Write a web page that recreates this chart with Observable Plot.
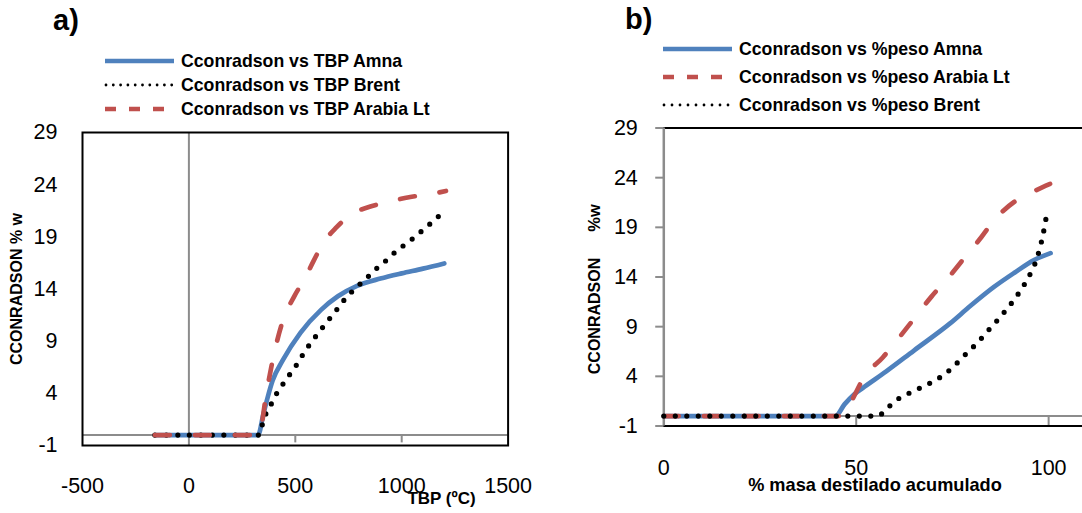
<!DOCTYPE html>
<html><head><meta charset="utf-8">
<script src="https://cdn.jsdelivr.net/npm/d3@7"></script>
<script src="https://cdn.jsdelivr.net/npm/@observablehq/plot@0.6"></script>
<style>
body{margin:0;background:#fff;}
#wrap{position:relative;width:1082px;height:513px;overflow:hidden;background:#fff;}
#wrap svg{position:absolute;top:0;}
</style></head><body><div id="wrap"></div>
<script>
// ---------- data ----------
const yTicks = [-1, 4, 9, 14, 19, 24, 29];
const xTicksA = [-500, 0, 500, 1000, 1500];
const xTicksB = [0, 50, 100];

// Panel a: TBP (ºC) vs Cconradson % w
const amnaTBP = [[-160,0],[325,0],[350,2.0],[370,3.6],[393,5.2],[442,7.2],[524,9.8],[621,12.0],[700,13.3],[790,14.3],[900,15.0],[1000,15.5],[1100,15.95],[1200,16.45]];
const brentTBP = [[-160,0],[330,0],[345,1.0],[361,2.0],[385,2.9],[410,3.9],[439,4.8],[470,5.7],[502,6.6],[532,7.6],[561,8.5],[594,9.4],[626,10.25],[659,11.1],[694,12.0],[728,12.9],[764,13.7],[803,14.45],[843,15.2],[884,16.0],[925,16.7],[965,17.45],[1008,18.15],[1050,18.8],[1091,19.5],[1134,20.25],[1175,21.0]];
const arabiaTBP = [[-160,0],[325,0],[335,0.3],[361,3.6],[393,7.1],[442,11.0],[495,13.3],[547,15.1],[586,16.7],[634,18.5],[693,19.9],[767,21.2],[853,21.9],[948,22.4],[1034,22.8],[1137,23.1],[1208,23.4]];

// Panel b: % masa destilado acumulado vs Cconradson %w
const amnaPeso = [[0,0],[44.6,0],[47,1.2],[49.5,2.2],[51.6,2.8],[57.8,4.5],[65,6.6],[74.3,9.3],[79.7,11.1],[85.8,13.0],[91,14.4],[96.2,15.7],[100.5,16.4]];
const arabiaPeso = [[0,0],[46.4,0],[48.9,1.6],[52,3.9],[56.9,5.9],[63.2,8.9],[69.5,12.0],[74.5,14.2],[79.3,16.5],[82.5,18.0],[85.8,19.7],[91.2,21.6],[96,22.6],[100.5,23.4]];
const brentPeso = [[0,0],[55.6,0],[57.8,0.7],[60.1,1.5],[61.6,1.9],[64.3,2.4],[67,2.9],[69.6,3.4],[72.2,4.0],[74.8,4.8],[77.6,5.9],[79.7,6.7],[81.8,7.5],[83.8,8.4],[85.8,9.25],[87.7,10.1],[89.6,11.0],[91.4,11.9],[93.1,12.9],[94.4,13.7],[95.7,14.7],[96.9,15.8],[97.7,16.9],[98.4,18.0],[99,19.2],[99.5,20.3]];

const legendA = ["Cconradson vs TBP Amna", "Cconradson vs TBP Brent", "Cconradson vs TBP Arabia Lt"];
const legendB = ["Cconradson vs %peso Amna", "Cconradson vs %peso Arabia Lt", "Cconradson vs %peso Brent"];
const titleA = "a)", titleB = "b)";
const xTitleA = "TBP (ºC)", xTitleB = "% masa destilado acumulado";
const yTitleA = "CCONRADSON % w", yTitleB1 = "CCONRADSON", yTitleB2 = "%w";

// ---------- styles ----------
const FONT = "'Liberation Sans', Arial, sans-serif";
const BLUE = "#4F81BD", RED = "#C0504D", BLACK = "#000";
const GRAY = "#8c8c8c";
const sBlue = {stroke: BLUE, strokeWidth: 4.7, strokeLinecap: "round", strokeLinejoin: "round"};
const sRed = {stroke: RED, strokeWidth: 4.7, strokeLinecap: "round", strokeDasharray: "15,25"};
const sDot = {stroke: BLACK, strokeWidth: 5.2, strokeLinecap: "round", strokeDasharray: "0,11.5"};
const fmt = d => String(d);

const wrap = document.getElementById("wrap");

// ---------- panel a ----------
const plotA = Plot.plot({
  width: 541, height: 513,
  marginLeft: 82, marginRight: 33.4, marginTop: 132, marginBottom: 68,
  style: {fontFamily: FONT, fontSize: "21.5px", color: "#000", background: "transparent", overflow: "visible"},
  x: {domain: [-500, 1500], label: null},
  y: {domain: [-1, 29], label: null},
  marks: [
    Plot.ruleX([0], {stroke: GRAY, strokeWidth: 2}),
    Plot.ruleY([0], {stroke: GRAY, strokeWidth: 2}),
    Plot.ruleX(xTicksA.filter(d => d > 0 && d < 1500), {y1: 0, y2: -0.75, stroke: GRAY, strokeWidth: 2}),
    Plot.frame({stroke: "#000", strokeWidth: 2}),
    Plot.line(amnaTBP, {x: d => d[0], y: d => d[1], curve: "monotone-x", ...sBlue}),
    Plot.line(brentTBP, {x: d => d[0], y: d => d[1], curve: "monotone-x", ...sDot}),
    Plot.line(arabiaTBP, {x: d => d[0], y: d => d[1], curve: "monotone-x", ...sRed}),
    Plot.axisX({ticks: xTicksA, tickSize: 0, tickPadding: 32, tickFormat: fmt, label: null}),
    Plot.axisY({ticks: yTicks, tickSize: 0, tickPadding: 25, tickFormat: fmt, label: null})
  ]
});
plotA.style.left = "0px";
wrap.appendChild(plotA);

// ---------- panel b ----------
const plotB = Plot.plot({
  width: 541, height: 513,
  marginLeft: 122.3, marginRight: 0, marginTop: 127.5, marginBottom: 87.5,
  style: {fontFamily: FONT, fontSize: "21.5px", color: "#000", background: "transparent", overflow: "visible"},
  x: {domain: [0, 108.8], label: null},
  y: {domain: [-1, 29], label: null},
  marks: [
    Plot.ruleY([0], {stroke: GRAY, strokeWidth: 2}),
    Plot.ruleX(xTicksB.filter(d => d > 0), {y1: 0, y2: -1, stroke: GRAY, strokeWidth: 2}),
    Plot.ruleY(yTicks, {x1: -2.1, x2: 0, stroke: GRAY, strokeWidth: 2}),
    Plot.ruleY([29, -1], {stroke: "#000", strokeWidth: 2}),
    Plot.ruleX([0], {stroke: GRAY, strokeWidth: 2.5}),
    Plot.line(amnaPeso, {x: d => d[0], y: d => d[1], curve: "monotone-x", ...sBlue}),
    Plot.line(arabiaPeso, {x: d => d[0], y: d => d[1], curve: "monotone-x", ...sRed}),
    Plot.line(brentPeso, {x: d => d[0], y: d => d[1], curve: "monotone-x", ...sDot}),
    Plot.axisX({ticks: xTicksB, tickSize: 0, tickPadding: 34, tickFormat: fmt, label: null}),
    Plot.axisY({ticks: yTicks, tickSize: 0, tickPadding: 26, tickFormat: fmt, label: null})
  ]
});
plotB.style.left = "541px";
wrap.appendChild(plotB);

// ---------- overlay: titles, axis titles, legends ----------
const ov = d3.select(wrap).append("svg")
  .attr("width", 1082).attr("height", 513)
  .style("left", "0px").style("pointer-events", "none")
  .attr("font-family", FONT).attr("font-weight", "bold");

ov.append("text").attr("x", 53).attr("y", 30).attr("font-size", 29).text(titleA);
ov.append("text").attr("x", 625).attr("y", 29).attr("font-size", 29).text(titleB);

ov.append("text").attr("x", 441.5).attr("y", 503.5).attr("text-anchor", "middle").attr("font-size", 17).text(xTitleA);
ov.append("text").attr("x", 875).attr("y", 491).attr("text-anchor", "middle").attr("font-size", 18.2).text(xTitleB);

ov.append("text").attr("transform", "translate(16,289) rotate(-90)").attr("text-anchor", "middle")
  .attr("dy", "0.35em").attr("font-size", 16).text(yTitleA);
ov.append("text").attr("transform", "translate(594.5,316) rotate(-90)").attr("text-anchor", "middle")
  .attr("dy", "0.35em").attr("font-size", 16).text(yTitleB1);
ov.append("text").attr("transform", "translate(594.5,218) rotate(-90)").attr("text-anchor", "middle")
  .attr("dy", "0.35em").attr("font-size", 16.5).text(yTitleB2);

const legSolid = {stroke: BLUE, "stroke-width": 4.3, "stroke-linecap": "butt"};
const legDash = {stroke: RED, "stroke-width": 4.3, "stroke-linecap": "butt", "stroke-dasharray": "11,13"};
const legDotA = {stroke: BLACK, "stroke-width": 2.8, "stroke-linecap": "round", "stroke-dasharray": "0,7.3"};
const legDotB = {stroke: BLACK, "stroke-width": 2.8, "stroke-linecap": "round", "stroke-dasharray": "0,8"};

function legendRow(x1, x2, y, tx, st, label) {
  const l = ov.append("line").attr("x1", x1).attr("x2", x2).attr("y1", y).attr("y2", y);
  for (const k in st) l.attr(k, st[k]);
  ov.append("text").attr("x", tx).attr("y", y).attr("dy", "0.36em").attr("font-size", 17.7).text(label);
}
legendRow(105, 174, 61, 181, legSolid, legendA[0]);
legendRow(106, 174, 85, 181, legDotA, legendA[1]);
legendRow(105, 174, 109, 181, legDash, legendA[2]);
legendRow(663, 732, 49, 739, legSolid, legendB[0]);
legendRow(663, 732, 77, 739, legDash, legendB[1]);
legendRow(664, 732, 105, 739, legDotB, legendB[2]);
</script></body></html>
